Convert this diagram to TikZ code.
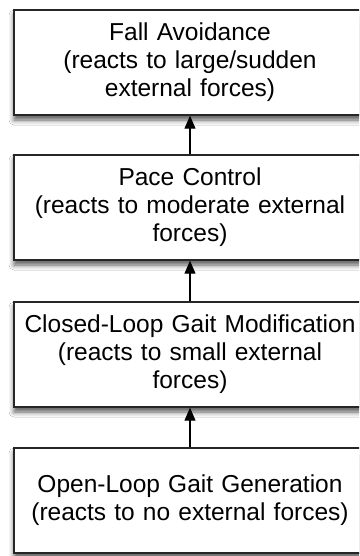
\documentclass[tikz,border=0pt]{standalone}
\usepackage{fontspec}
\setmainfont{Liberation Sans}
\usetikzlibrary{shadows.blur,arrows.meta}
\begin{document}
\begin{tikzpicture}[x=1pt,y=-1pt,
  layerbox/.style={draw=black!85, line width=1.4pt, fill=white, minimum width=352pt, minimum height=105pt,
    text width=345pt, align=center, inner sep=0pt,
    font=\fontsize{24.5}{28}\selectfont,
    blur shadow={shadow xshift=0pt, shadow yshift=-5pt, shadow blur radius=5pt, shadow opacity=65}},
  link/.style={draw=black, line width=1.1pt, -{Triangle[length=13pt,width=11pt]}}]
\useasboundingbox (0,0) rectangle (359,556);
\fill[white] (0,0) rectangle (359,556);
\clip (0,0) rectangle (359,556);
\node[layerbox] (fall) at (190,62.5) {Fall Avoidance\\(reacts to large/sudden\\external forces)};
\node[layerbox] (pace) at (190,207.5) {Pace Control\\(reacts to moderate external\\forces)};
\node[layerbox] (closed) at (190,354.5) {Closed-Loop Gait Modification\\(reacts to small external\\forces)};
\node[layerbox] (open) at (190,500.5) {Open-Loop Gait Generation\\(reacts to no external forces)};
\draw[link] (pace.north) -- (fall.south);
\draw[link] (closed.north) -- (pace.south);
\draw[link] (open.north) -- (closed.south);
\end{tikzpicture}
\end{document}
